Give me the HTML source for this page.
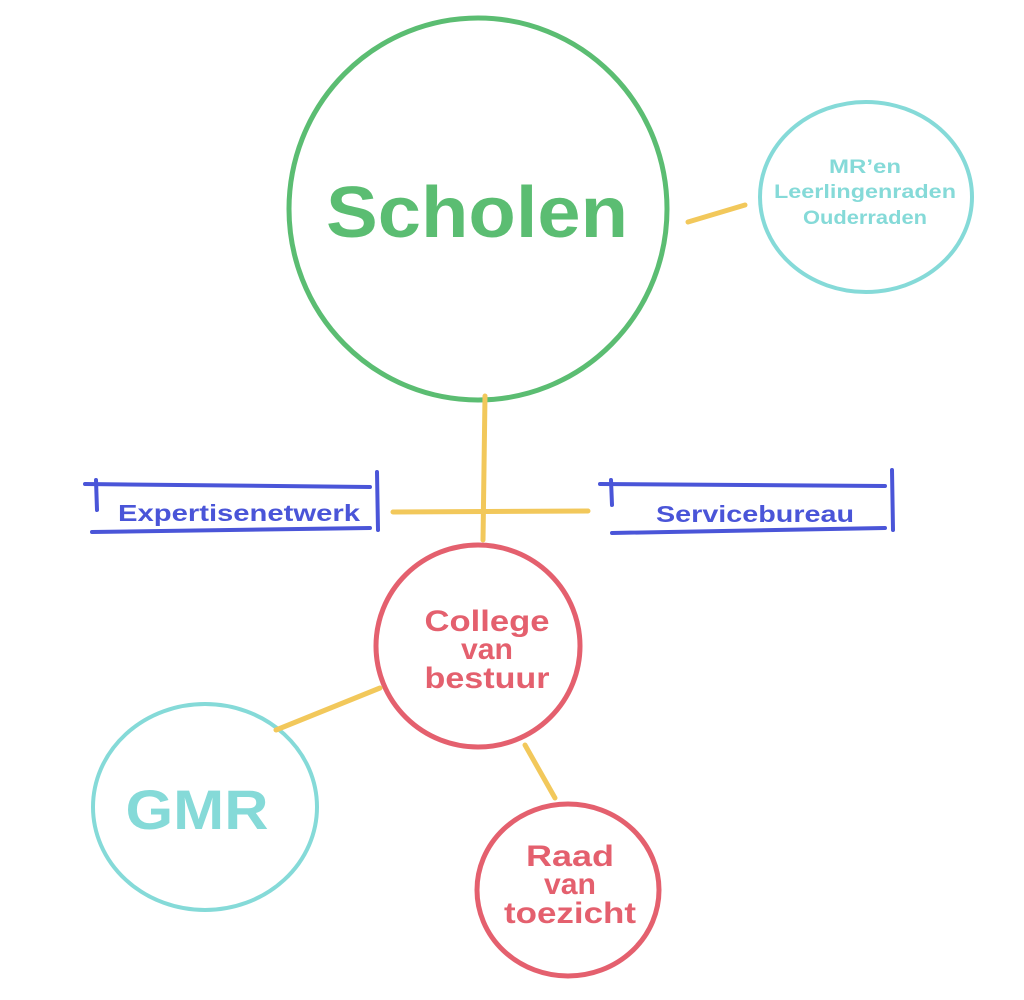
<!DOCTYPE html>
<html><head><meta charset="utf-8"><style>
html,body{margin:0;padding:0;background:#fff;}
svg{display:block;}
text{font-family:"Liberation Sans",sans-serif;font-weight:bold;text-anchor:middle;}
</style></head><body>
<svg width="1024" height="1000" viewBox="0 0 1024 1000" xmlns="http://www.w3.org/2000/svg">
<g fill="none" stroke-linecap="round">
<ellipse cx="478" cy="209" rx="189" ry="191" stroke="#5bbd72" stroke-width="5"/>
<ellipse cx="866" cy="197" rx="106" ry="95" stroke="#85dad8" stroke-width="4"/>
<ellipse cx="478" cy="646" rx="102" ry="101" stroke="#e4606e" stroke-width="5"/>
<ellipse cx="205" cy="807" rx="112" ry="103" stroke="#85dad8" stroke-width="4"/>
<ellipse cx="568" cy="890" rx="91" ry="86" stroke="#e4606e" stroke-width="5"/>
<g stroke="#f2c85b" stroke-width="5">
<line x1="688" y1="222" x2="745" y2="205"/>
<line x1="485" y1="396" x2="483" y2="540"/>
<line x1="393" y1="512" x2="588" y2="511"/>
<line x1="380" y1="688" x2="276" y2="730"/>
<line x1="525" y1="745" x2="555" y2="798"/>
</g>
<g stroke="#4a55d8" stroke-width="4">
<line x1="85" y1="484" x2="370" y2="487"/>
<line x1="96" y1="480" x2="97" y2="510"/>
<line x1="377" y1="472" x2="378" y2="530"/>
<line x1="92" y1="532" x2="370" y2="528"/>
<line x1="600" y1="484" x2="885" y2="486"/>
<line x1="611" y1="480" x2="612" y2="505"/>
<line x1="892" y1="470" x2="893" y2="530"/>
<line x1="612" y1="533" x2="885" y2="528"/>
</g>
</g>
<text x="477" y="237" font-size="72" fill="#5bbd72" textLength="302" lengthAdjust="spacingAndGlyphs">Scholen</text>
<g font-size="19" fill="#85dad8">
<text x="865" y="173" textLength="72" lengthAdjust="spacingAndGlyphs">MR’en</text>
<text x="865" y="198" textLength="182" lengthAdjust="spacingAndGlyphs">Leerlingenraden</text>
<text x="865" y="224" textLength="124" lengthAdjust="spacingAndGlyphs">Ouderraden</text>
</g>
<text x="239" y="521" font-size="23" fill="#4a55d8" textLength="242" lengthAdjust="spacingAndGlyphs">Expertisenetwerk</text>
<text x="755" y="522" font-size="23" fill="#4a55d8" textLength="198" lengthAdjust="spacingAndGlyphs">Servicebureau</text>
<g font-size="30" fill="#e4606e">
<text x="487" y="631" textLength="125" lengthAdjust="spacingAndGlyphs">College</text>
<text x="487" y="659" textLength="52" lengthAdjust="spacingAndGlyphs">van</text>
<text x="487" y="688" textLength="125" lengthAdjust="spacingAndGlyphs">bestuur</text>
<text x="570" y="866" textLength="88" lengthAdjust="spacingAndGlyphs">Raad</text>
<text x="570" y="894" textLength="52" lengthAdjust="spacingAndGlyphs">van</text>
<text x="570" y="923" textLength="132" lengthAdjust="spacingAndGlyphs">toezicht</text>
</g>
<text x="197" y="829" font-size="56" fill="#85dad8" textLength="143" lengthAdjust="spacingAndGlyphs">GMR</text>
</svg>
</body></html>
